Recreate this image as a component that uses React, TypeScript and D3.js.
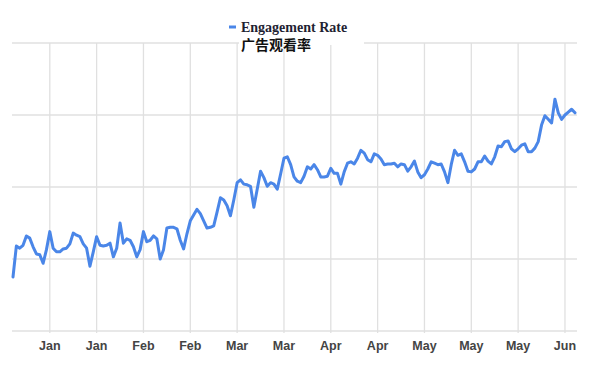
import React from "react";
import * as d3 from "d3";

const startDate = "2022-12-30";
const values: number[] = [
  0.75, 1.18, 1.15, 1.19, 1.32, 1.29, 1.17, 1.07, 1.06, 0.94,
  1.13, 1.38, 1.15, 1.10, 1.10, 1.14, 1.15, 1.21, 1.36, 1.33,
  1.31, 1.21, 1.15, 0.90, 1.10, 1.31, 1.19, 1.18, 1.19, 1.22,
  1.03, 1.15, 1.50, 1.22, 1.28, 1.26, 1.17, 1.03, 1.13, 1.38,
  1.24, 1.26, 1.32, 1.28, 1.00, 1.13, 1.43, 1.44, 1.44, 1.42,
  1.26, 1.14, 1.35, 1.53, 1.61, 1.69, 1.63, 1.53, 1.43, 1.44,
  1.46, 1.65, 1.85, 1.82, 1.74, 1.60, 1.82, 2.06, 2.10, 2.04,
  2.03, 2.01, 1.72, 1.97, 2.22, 2.13, 2.01, 2.06, 2.04, 1.97,
  2.18, 2.40, 2.42, 2.31, 2.14, 2.08, 2.06, 2.15, 2.28, 2.25,
  2.31, 2.24, 2.14, 2.14, 2.15, 2.26, 2.19, 2.19, 2.04, 2.21,
  2.33, 2.35, 2.32, 2.40, 2.51, 2.47, 2.38, 2.35, 2.46, 2.44,
  2.39, 2.31, 2.32, 2.32, 2.33, 2.28, 2.32, 2.31, 2.22, 2.28,
  2.36, 2.21, 2.13, 2.17, 2.25, 2.35, 2.33, 2.31, 2.32, 2.21,
  2.06, 2.31, 2.51, 2.44, 2.46, 2.35, 2.22, 2.21, 2.25, 2.35,
  2.35, 2.43, 2.36, 2.32, 2.42, 2.57, 2.56, 2.63, 2.64, 2.53,
  2.49, 2.53, 2.58, 2.60, 2.49, 2.49, 2.54, 2.63, 2.86, 2.99,
  2.94, 2.89, 3.22, 3.03, 2.94, 3.00, 3.04, 3.08, 3.03,
];
const tickDates = [
  "2023-01-10", "2023-01-24", "2023-02-07", "2023-02-21", "2023-03-07", "2023-03-21",
  "2023-04-04", "2023-04-18", "2023-05-02", "2023-05-16", "2023-05-30", "2023-06-13",
];
const tickLabels = ["Jan", "Jan", "Feb", "Feb", "Mar", "Mar", "Apr", "Apr", "May", "May", "May", "Jun"];
const gridValues = [0, 1, 2, 3, 4];
const seriesName = "Engagement Rate";
const subtitle = "广告观看率";

export default function App() {
  const W = 591, H = 382;
  const start = new Date(startDate + "T00:00:00Z");
  const dates = values.map((_, i) => d3.utcDay.offset(start, i));
  const x = d3.scaleUtc().domain([dates[0], dates[dates.length - 1]]).range([13, 575]);
  const y = d3.scaleLinear().domain([0, 4]).range([331, 43]);
  const line = d3.line<number>().x((_, i) => x(dates[i])).y((d) => y(d));
  const ticks = tickDates.map((t) => new Date(t + "T00:00:00Z"));
  return (
    <svg width={W} height={H} style={{ position: "absolute", left: 0, top: 0, background: "#fff" }}>
      <rect x={0} y={0} width={W} height={H} fill="#fff" />
      {gridValues.map((g) => (
        <line key={"h" + g} x1={12} x2={577} y1={y(g)} y2={y(g)} stroke="#e0e0e0" strokeWidth={1.3} />
      ))}
      {ticks.map((t, i) => (
        <line key={"v" + i} x1={x(t)} x2={x(t)} y1={y(4)} y2={y(0) + 2} stroke="#e0e0e0" strokeWidth={1.3} />
      ))}
      <rect x={239} y={14} width={125} height={31} fill="#fff" />
      <path d={line(values) ?? ""} fill="none" stroke="#4a86e8" strokeWidth={3} strokeLinejoin="round" strokeLinecap="round" />
      {ticks.map((t, i) => (
        <text key={"l" + i} x={x(t)} y={350} textAnchor="middle" fontFamily="Liberation Sans, Arial, sans-serif" fontWeight="bold" fontSize={12.5} fill="#444">
          {tickLabels[i]}
        </text>
      ))}
      <line x1={229} x2={236} y1={27} y2={27} stroke="#4a86e8" strokeWidth={3} />
      <text x={241} y={32} fontFamily="Liberation Serif, Times New Roman, serif" fontWeight="bold" fontSize={14} fill="#1f1f33">
        {seriesName}
      </text>
      <text x={241} y={50} fontFamily="Noto Sans CJK SC, sans-serif" fontWeight="bold" fontSize={14} fill="#111">
        {subtitle}
      </text>
    </svg>
  );
}
